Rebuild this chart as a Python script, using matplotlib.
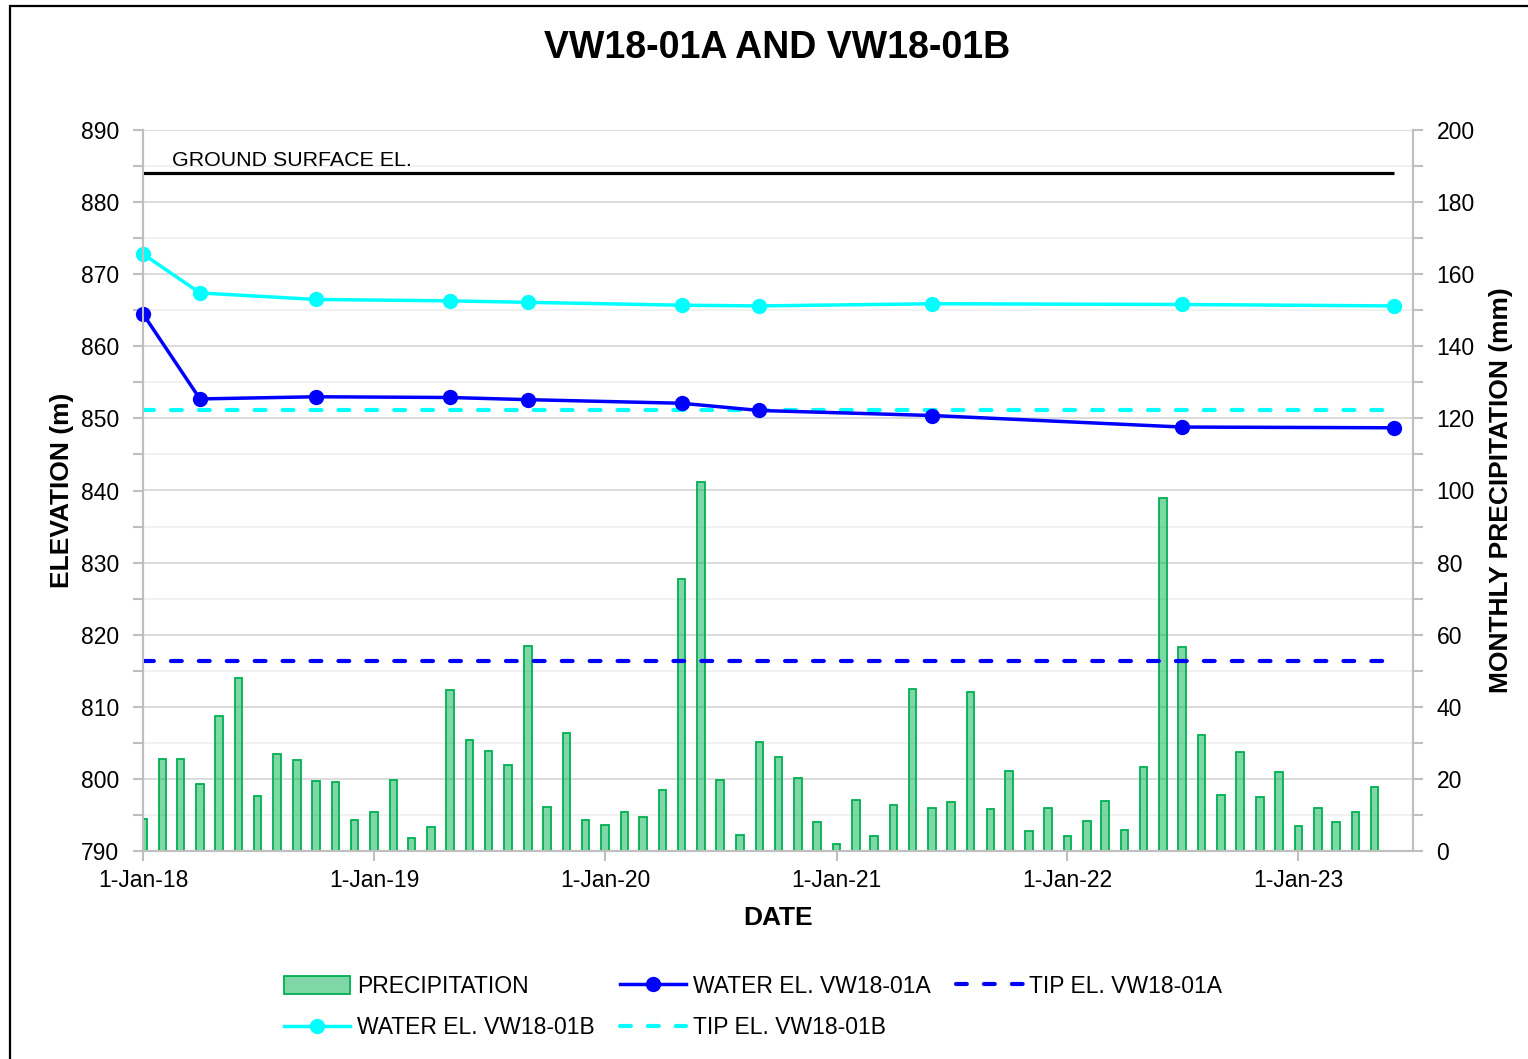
import datetime as dt
import numpy as np
import pandas as pd
import matplotlib
matplotlib.use('Agg')
import matplotlib.pyplot as plt
import matplotlib.dates as mdates
from matplotlib.patches import Rectangle, Patch
from matplotlib.lines import Line2D
from matplotlib.ticker import MultipleLocator, FuncFormatter

plt.rcParams['font.family'] = ['Liberation Sans', 'DejaVu Sans']

# Monthly precipitation (mm), Jan-2018 .. May-2023
precip_months = pd.date_range('2018-01-01', periods=65, freq='MS')
precip_mm = [
    8.9, 25.5, 25.5, 18.6, 37.4, 48.0, 15.3, 26.9, 25.2, 19.4, 19.1, 8.6,
    10.8, 19.7, 3.6, 6.7, 44.7, 30.8, 27.7, 23.9, 56.9, 12.2, 32.7, 8.6,
    7.2, 10.7, 9.5, 16.9, 75.4, 102.4, 19.8, 4.3, 30.3, 26.0, 20.3, 8.1,
    1.9, 14.2, 4.1, 12.8, 45.0, 11.9, 13.5, 44.2, 11.7, 22.3, 5.5, 11.9,
    4.2, 8.3, 13.9, 5.8, 23.3, 97.9, 56.6, 32.2, 15.5, 27.5, 15.0, 21.9,
    6.9, 11.9, 8.0, 10.8, 17.8,
]

# Water level readings
reading_dates = pd.to_datetime([
    '2018-01-01', '2018-04-01', '2018-10-01', '2019-05-01', '2019-09-01',
    '2020-05-01', '2020-09-01', '2021-06-01', '2022-07-01', '2023-06-01',
])
water_a = [864.5, 852.7, 853.0, 852.9, 852.6, 852.1, 851.1, 850.4, 848.8, 848.7]
water_b = [872.8, 867.4, 866.5, 866.3, 866.1, 865.7, 865.6, 865.9, 865.8, 865.6]

ground_el = 884.0
tip_a = 816.35
tip_b = 851.2

grid_c = '#D9D9D9'
spine_c = '#BFBFBF'
green = '#00B050'

fig = plt.figure(figsize=(15.28, 10.59), dpi=100)
ax = fig.add_axes([143 / 1528, 1 - 851 / 1059, (1413 - 143) / 1528, (851 - 130) / 1059])
ax2 = ax.twinx()

# precipitation bars sit underneath everything
ax2.bar(precip_months, precip_mm, width=12, color=green, alpha=0.5, zorder=2)
ax2.bar(precip_months, precip_mm, width=12, fill=False, edgecolor=green, linewidth=1.3, zorder=3)
ax2.set_ylim(0, 200)
ax2.yaxis.set_major_locator(MultipleLocator(20))
ax2.yaxis.set_minor_locator(MultipleLocator(10))
ax2.grid(True, which='major', axis='both', color=grid_c, linewidth=1.3, zorder=0)
ax2.grid(True, which='minor', axis='y', color='#F0F0F0', linewidth=1.3, zorder=0)
ax2.set_axisbelow(True)

# elevation lines on top
ax.set_zorder(ax2.get_zorder() + 1)
ax.patch.set_visible(False)
x_span = [reading_dates[0], reading_dates[-1]]
ax.plot(x_span, [ground_el, ground_el], color='black', lw=2.3, solid_capstyle='butt')
ax.plot(x_span, [tip_a, tip_a], color='#0000FF', lw=3, dashes=(2.6, 4.1), dash_capstyle='round')
ax.plot(x_span, [tip_b, tip_b], color='#00FFFF', lw=3, dashes=(2.6, 4.1), dash_capstyle='round')
ax.plot(reading_dates, water_b, color='#00FFFF', lw=2.5, marker='o', ms=10, clip_on=False)
ax.plot(reading_dates, water_a, color='#0000FF', lw=2.5, marker='o', ms=10, clip_on=False)
ax.text(dt.datetime(2018, 2, 16), 885.0, 'GROUND SURFACE EL.', fontsize=15.4,
        va='baseline', ha='left')

ax.set_ylim(790, 890)
ax.yaxis.set_major_locator(MultipleLocator(10))
ax.yaxis.set_minor_locator(MultipleLocator(5))
ax.set_xlim(dt.datetime(2018, 1, 1), dt.datetime(2023, 7, 1))
ax.xaxis.set_major_locator(mdates.YearLocator())
ax.xaxis.set_major_formatter(FuncFormatter(
    lambda v, pos: '{}-{}'.format(mdates.num2date(v).day, mdates.num2date(v).strftime('%b-%y'))))

for a in (ax, ax2):
    a.spines['top'].set_visible(False)
    for side in ('left', 'right', 'bottom'):
        a.spines[side].set_color(spine_c)
        a.spines[side].set_linewidth(1.5)
    a.tick_params(which='both', color=spine_c, width=1.5, length=7, labelsize=16.5)
ax.tick_params(axis='x', pad=6)
ax.tick_params(axis='y', pad=10)
ax2.tick_params(axis='y', pad=10)

ax.set_ylabel('ELEVATION (m)', fontsize=19, fontweight='bold', labelpad=5)
ax2.set_ylabel('MONTHLY PRECIPITATION (mm)', fontsize=19, fontweight='bold', labelpad=10)
ax.set_xlabel('DATE', fontsize=19, fontweight='bold', labelpad=10)

fig.text(777 / 1528, 1 - 48 / 1059, 'VW18-01A AND VW18-01B', fontsize=27,
         fontweight='bold', ha='center', va='center')

# legend: 3 columns, column-major fill
h_p = Patch(facecolor='#7FD7A7', edgecolor=green, linewidth=1.3)
h_wa = Line2D([], [], color='#0000FF', lw=2.5, marker='o', ms=10)
h_wb = Line2D([], [], color='#00FFFF', lw=2.5, marker='o', ms=10)
h_ta = Line2D([], [], color='#0000FF', lw=3, dashes=(2.6, 4.1), dash_capstyle='round')
h_tb = Line2D([], [], color='#00FFFF', lw=3, dashes=(2.6, 4.1), dash_capstyle='round')
fig.legend([h_p, h_wb, h_wa, h_tb, h_ta],
           ['PRECIPITATION', 'WATER EL. VW18-01B', 'WATER EL. VW18-01A',
            'TIP EL. VW18-01B', 'TIP EL. VW18-01A'],
           ncol=3, loc='center', bbox_to_anchor=(753 / 1528, 1 - 1007 / 1059),
           frameon=False, fontsize=16.5, handlelength=2.9, handletextpad=0.3,
           columnspacing=1.1, labelspacing=0.8, handleheight=0.8)

# outer chart border (runs off the right and bottom edges)
fig.add_artist(Rectangle((9.5 / 1528, -0.05), 1.2, (1059 - 5.5) / 1059 + 0.05,
                         transform=fig.transFigure, fill=False, edgecolor='black', lw=1.6))

fig.savefig('out.png', dpi=100)
